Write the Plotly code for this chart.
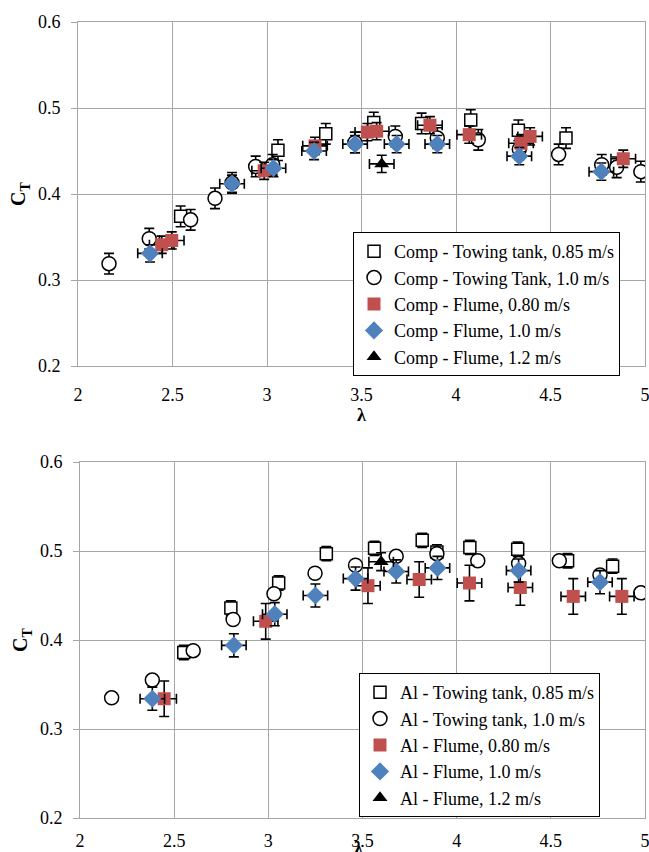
import plotly.graph_objects as go

# ---------------- Top chart (Comp) ----------------
comp_tt085_x = [2.543, 3.058, 3.311, 3.565, 3.818, 4.078, 4.330, 4.582]
comp_tt085_y = [0.374, 0.451, 0.470, 0.483, 0.482, 0.486, 0.474, 0.465]

comp_tt10_x = [2.164, 2.377, 2.596, 2.725, 2.815, 2.940, 3.030, 3.465, 3.679, 3.901, 4.118, 4.335, 4.543, 4.771, 4.850, 4.978]
comp_tt10_y = [0.319, 0.348, 0.370, 0.395, 0.413, 0.432, 0.434, 0.460, 0.467, 0.465, 0.463, 0.452, 0.446, 0.434, 0.431, 0.426]

comp_f080_x = [2.443, 2.496, 2.985, 3.254, 3.531, 3.580, 3.862, 4.070, 4.344, 4.392, 4.885]
comp_f080_y = [0.341, 0.346, 0.427, 0.456, 0.472, 0.473, 0.480, 0.469, 0.459, 0.467, 0.441]

comp_f10_x = [2.381, 2.815, 3.034, 3.249, 3.466, 3.686, 3.901, 4.335, 4.769]
comp_f10_y = [0.331, 0.412, 0.430, 0.450, 0.458, 0.458, 0.458, 0.444, 0.426]

comp_f12_x = [3.607]
comp_f12_y = [0.435]

# ---------------- Bottom chart (Al) ----------------
al_tt085_x = [2.551, 2.801, 3.055, 3.308, 3.564, 3.817, 3.895, 4.070, 4.324, 4.589, 4.828]
al_tt085_y = [0.386, 0.436, 0.464, 0.497, 0.503, 0.512, 0.499, 0.504, 0.502, 0.489, 0.483]

al_tt10_x = [2.168, 2.384, 2.601, 2.813, 3.030, 3.248, 3.463, 3.679, 3.895, 4.112, 4.329, 4.545, 4.761, 4.978]
al_tt10_y = [0.335, 0.355, 0.388, 0.423, 0.452, 0.475, 0.484, 0.494, 0.497, 0.489, 0.486, 0.489, 0.473, 0.453]

al_f080_x = [2.447, 2.986, 3.529, 3.801, 4.068, 4.338, 4.619, 4.877]
al_f080_y = [0.334, 0.421, 0.461, 0.468, 0.464, 0.459, 0.449, 0.449]

al_f10_x = [2.384, 2.817, 3.034, 3.250, 3.463, 3.679, 3.898, 4.329, 4.761]
al_f10_y = [0.334, 0.394, 0.429, 0.450, 0.469, 0.477, 0.481, 0.478, 0.465]

al_f12_x = [3.599]
al_f12_y = [0.488]

# error magnitudes (symmetric)
comp_err_y = {"tt085": 0.012, "tt10": 0.012, "f080": 0.010, "f10": 0.010, "f12": 0.010}
al_err_y = {"tt085": 0.008, "tt10": 0.005, "f080": 0.020, "f10": 0.013, "f12": 0.010}
err_x_flume = 0.065

x_ticks = [2, 2.5, 3, 3.5, 4, 4.5, 5]
y_ticks = [0.2, 0.3, 0.4, 0.5, 0.6]

RED = "#C0504D"
BLUE = "#4F81BD"
FONT = '"Liberation Serif", "Times New Roman", Times, serif'
TICK_FAMILY = "Liberation Serif"

styles = {
    "tt085": dict(symbol="square", size=12, color="white", line=dict(color="black", width=1.5)),
    "tt10": dict(symbol="circle", size=14, color="white", line=dict(color="black", width=1.5)),
    "f080": dict(symbol="square", size=13, color=RED, line=dict(width=0)),
    "f10": dict(symbol="diamond", size=14, color=BLUE, line=dict(width=0)),
    "f12": dict(symbol="triangle-up", size=13, color="black", line=dict(width=0)),
}

fig = go.Figure()


def add(xs, ys, key, name, ax, legend, ey, ex=None):
    trace = dict(
        x=xs, y=ys, mode="markers", name=name, marker=styles[key],
        xaxis=ax[0], yaxis=ax[1], legend=legend, legendgroup=legend + key,
        error_y=dict(type="constant", value=ey, color="black", thickness=1.6, width=5),
    )
    if ex is not None:
        trace["error_x"] = dict(type="constant", value=ex, color="black", thickness=1.6, width=5)
    fig.add_trace(go.Scatter(**trace))


top = ("x", "y")
bot = ("x2", "y2")
add(comp_tt085_x, comp_tt085_y, "tt085", "Comp - Towing tank, 0.85 m/s", top, "legend", comp_err_y["tt085"])
add(comp_tt10_x, comp_tt10_y, "tt10", "Comp - Towing Tank, 1.0 m/s", top, "legend", comp_err_y["tt10"])
add(comp_f080_x, comp_f080_y, "f080", "Comp - Flume, 0.80 m/s", top, "legend", comp_err_y["f080"], err_x_flume)
add(comp_f10_x, comp_f10_y, "f10", "Comp - Flume, 1.0 m/s", top, "legend", comp_err_y["f10"], err_x_flume)
add(comp_f12_x, comp_f12_y, "f12", "Comp - Flume, 1.2 m/s", top, "legend", comp_err_y["f12"], err_x_flume)

add(al_tt085_x, al_tt085_y, "tt085", "Al - Towing tank, 0.85 m/s", bot, "legend2", al_err_y["tt085"])
add(al_tt10_x, al_tt10_y, "tt10", "Al - Towing tank, 1.0 m/s", bot, "legend2", al_err_y["tt10"])
add(al_f080_x, al_f080_y, "f080", "Al - Flume, 0.80 m/s", bot, "legend2", al_err_y["f080"], err_x_flume)
add(al_f10_x, al_f10_y, "f10", "Al - Flume, 1.0 m/s", bot, "legend2", al_err_y["f10"], err_x_flume)
add(al_f12_x, al_f12_y, "f12", "Al - Flume, 1.2 m/s", bot, "legend2", al_err_y["f12"], err_x_flume)

GRID = "#A6A6A6"
TICKFONT = dict(family=TICK_FAMILY, size=18, color="black")
common_x = dict(range=[2, 5], tickvals=x_ticks, ticktext=[f"{v:g}" for v in x_ticks],
                showgrid=True, gridcolor=GRID, gridwidth=1, showline=True, linecolor=GRID,
                mirror=True, zeroline=False, ticks="", ticklabeloverflow="allow",
                automargin=False, tickfont=TICKFONT)
common_y = dict(range=[0.2, 0.6], tickvals=y_ticks, ticktext=[f"{v:.1f}" for v in y_ticks],
                showgrid=True, gridcolor=GRID, gridwidth=1, showline=True, linecolor=GRID,
                mirror=True, zeroline=False, ticks="outside", ticklen=6, tickcolor=GRID,
                ticklabelstandoff=7, automargin=False, tickfont=TICKFONT,
                title=dict(text="<b>C<sub>T</sub></b>", font=dict(family=FONT, size=20), standoff=6))

W, H = 649, 852
ml, mr, mt, mb = 78, 4, 22, 34
pw, ph = W - ml - mr, H - mt - mb


def py(pix):  # pixel y (from top) -> paper y
    return (H - mb - pix) / ph


def px(pix):
    return (pix - ml) / pw


legend_common = dict(bgcolor="white", bordercolor="black", borderwidth=1,
                     font=dict(family=FONT, size=18, color="black"),
                     itemwidth=30, tracegroupgap=0, xanchor="left", yanchor="top",
                     itemclick=False)

fig.update_layout(
    width=W, height=H,
    margin=dict(l=ml, r=mr, t=mt, b=mb, autoexpand=False),
    paper_bgcolor="white", plot_bgcolor="white",
    font=dict(family=FONT, color="black", size=18),
    xaxis=dict(domain=[0, 1], anchor="y", ticklabelstandoff=12,
               title=dict(text="<b>λ</b>", font=dict(family=FONT, size=18), standoff=0),
               **common_x),
    yaxis=dict(domain=[py(366), 1], anchor="x", **common_y),
    xaxis2=dict(domain=[px(80), 1], anchor="y2", ticklabelstandoff=6, **common_x),
    yaxis2=dict(domain=[0, py(462)], anchor="x2", **common_y),
    legend=dict(x=px(353), y=py(232), **legend_common),
    legend2=dict(x=px(359), y=py(673), **legend_common),
    annotations=[dict(text="<b>λ</b>", xref="paper", yref="paper",
                      x=px(358), y=py(848), xanchor="center", yanchor="middle",
                      showarrow=False, font=dict(family=FONT, size=18, color="black"))],
)

fig.write_html("out.html")
